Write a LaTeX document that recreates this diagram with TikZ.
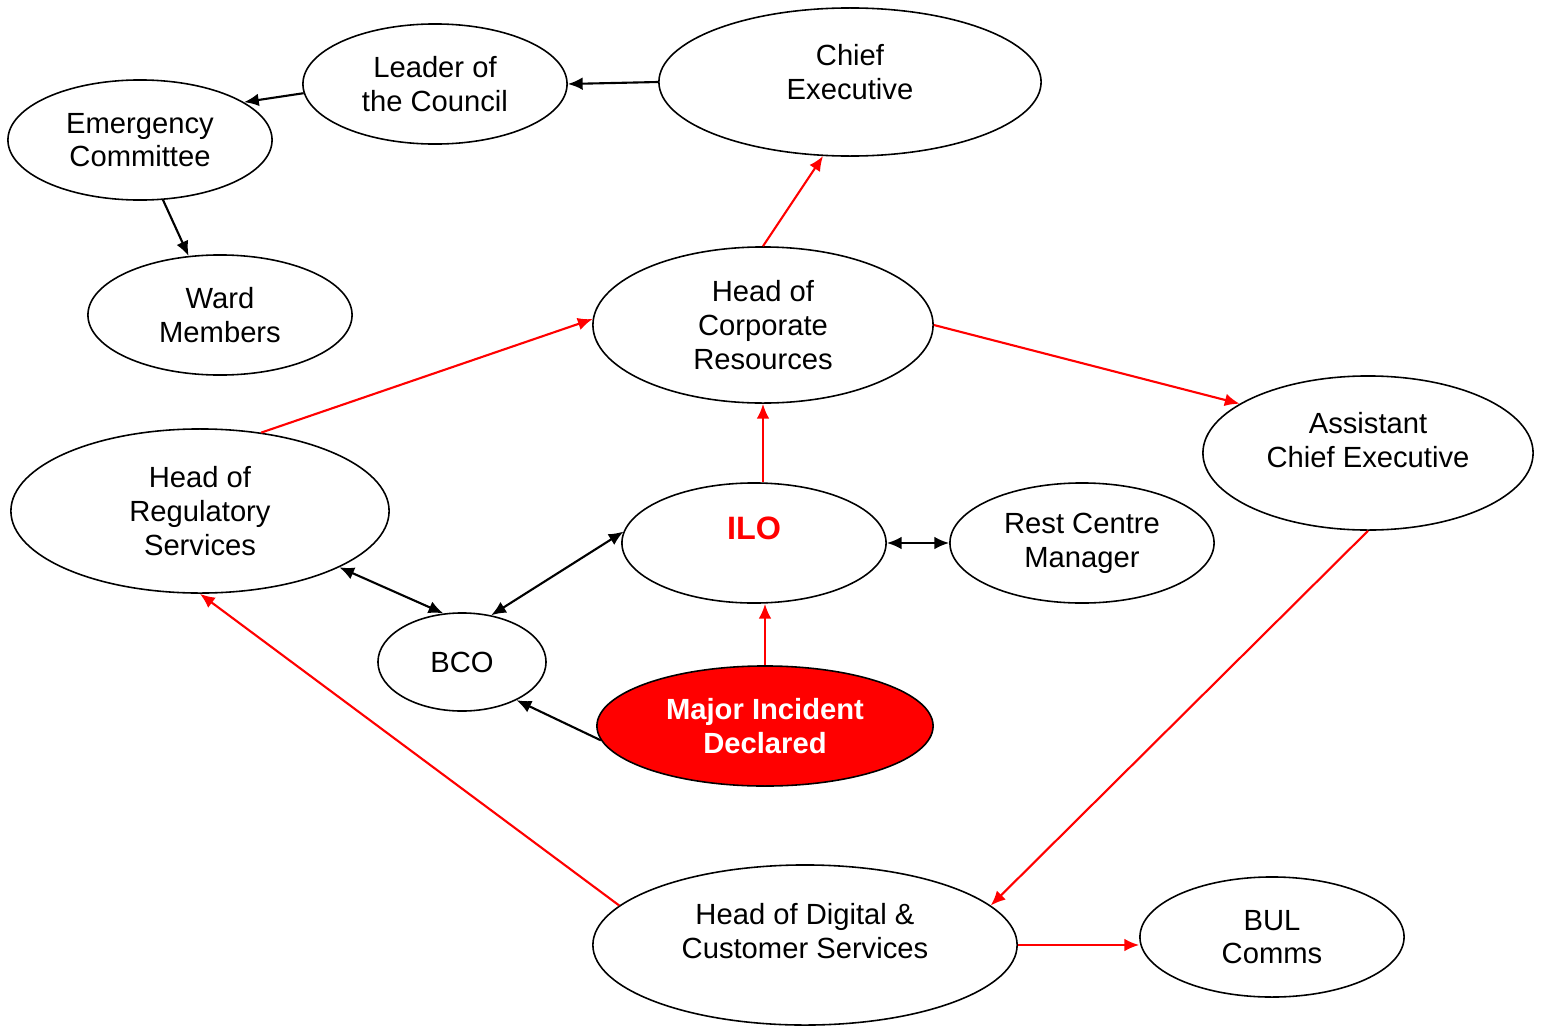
\documentclass[tikz,border=0pt]{standalone}
\usepackage{fontspec}
\setmainfont{Liberation Sans}
\usetikzlibrary{arrows.meta,shapes.geometric}

\begin{document}
\begin{tikzpicture}[x=0.01cm,y=-0.01cm,
		bubble/.style={ellipse,draw,line width=0.45pt,inner sep=0pt,align=center,
			font=\fontsize{8.3}{9.6}\selectfont},
		blk/.style={-{Latex[length=4.2pt,width=3.6pt]},line width=0.6pt,black},
		blkboth/.style={{Latex[length=4.2pt,width=3.6pt]}-{Latex[length=4.2pt,width=3.6pt]},line width=0.6pt,black},
		redline/.style={-{Latex[length=4.2pt,width=3.6pt]},line width=0.6pt,red}]
		\useasboundingbox (0,0) rectangle (1542,1027);
		% ellipses
		\node[bubble,minimum width=3.82cm,minimum height=1.48cm,text depth=5.7pt] (chief) at (850,82) {Chief\\Executive};
		\node[bubble,minimum width=2.64cm,minimum height=1.2cm] (leader) at (435,84) {Leader of\\the Council};
		\node[bubble,minimum width=2.64cm,minimum height=1.2cm] (ec) at (140,140) {Emergency\\Committee};
		\node[bubble,minimum width=2.64cm,minimum height=1.2cm] (ward) at (220,315) {Ward\\Members};
		\node[bubble,minimum width=3.4cm,minimum height=1.56cm] (hcr) at (763,325) {Head of\\Corporate\\Resources};
		\node[bubble,minimum width=3.3cm,minimum height=1.54cm,text depth=7.4pt] (ace) at (1368,453) {Assistant\\Chief Executive};
		\node[bubble,minimum width=3.78cm,minimum height=1.64cm] (hrs) at (200,511) {Head of\\Regulatory\\Services};
		\node[bubble,minimum width=2.64cm,minimum height=1.2cm,text depth=8.5pt,text=red,font=\fontsize{9.2}{10}\selectfont\bfseries] (ilo) at (754,543) {ILO};
		\node[bubble,minimum width=2.64cm,minimum height=1.2cm] (rest) at (1082,543) {Rest Centre\\Manager};
		\node[bubble,minimum width=1.68cm,minimum height=0.98cm] (bco) at (462,662) {BCO};
		\node[bubble,minimum width=3.36cm,minimum height=1.2cm,fill=red,text=white,font=\fontsize{8.3}{9.6}\selectfont\bfseries] (mid) at (765,726) {Major Incident\\Declared};
		\node[bubble,minimum width=4.24cm,minimum height=1.6cm,text depth=8pt] (hdc) at (805,945) {Head of Digital \&\\Customer Services};
		\node[bubble,minimum width=2.64cm,minimum height=1.2cm] (bul) at (1272,937) {BUL\\Comms};
		% black connectors
		\draw[blk] (chief.west) -- (leader.east);
		\draw[blk] (leader.184) -- (ec.20);
		\draw[blk] (ec.-69) -- (ward.118);
		\draw[blkboth] (ilo.east) -- (rest.west);
		\draw[blkboth] (ilo.175) -- (bco.58);
		\draw[blkboth] (hrs.-22) -- (bco.111);
		\draw[blk] (mid.185) -- (bco.-35);
		% red connectors
		\draw[redline] (hcr.north) -- (chief.250);
		\draw[redline] (hrs.52) -- (hcr.178);
		\draw[redline] (hcr.east) -- (ace.159);
		\draw[redline] (hcr.south |- ilo.north) -- (hcr.south);
		\draw[redline] (mid.north) -- (mid.north |- ilo.south);
		\draw[redline] (ace.south) -- (hdc.12);
		\draw[redline] (hdc.168) -- (hrs.south);
		\draw[redline] (hdc.east) -- (hdc.east -| bul.west);
\end{tikzpicture}
\end{document}
